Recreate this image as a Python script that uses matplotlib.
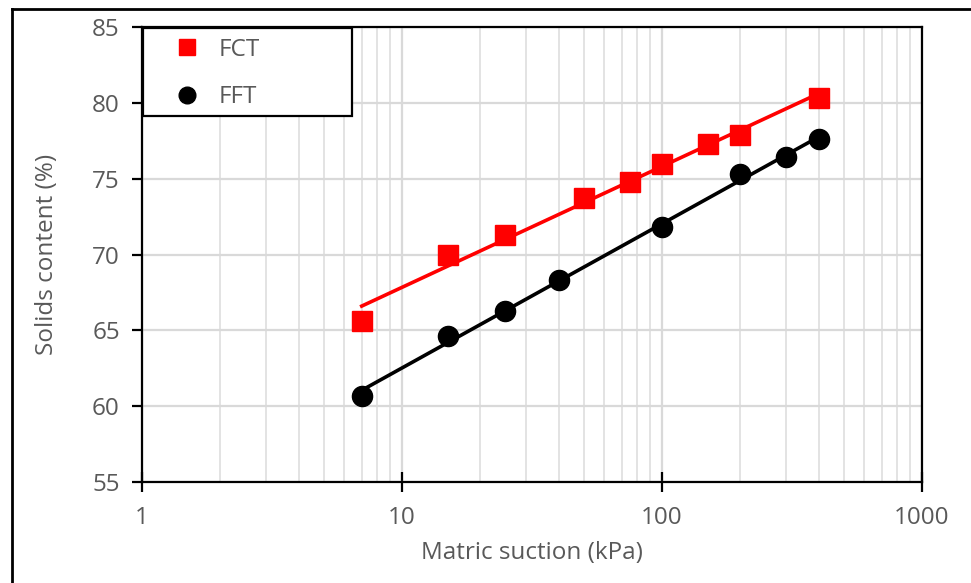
import numpy as np
import matplotlib
matplotlib.use("Agg")
import matplotlib.pyplot as plt
from matplotlib.lines import Line2D
from matplotlib.patches import Rectangle

# data
fct_x = [7, 15, 25, 50, 75, 100, 150, 200, 400]
fct_y = [65.6, 70.0, 71.3, 73.7, 74.8, 76.0, 77.3, 77.9, 80.3]
fft_x = [7, 15, 25, 40, 100, 200, 300, 400]
fft_y = [60.7, 64.6, 66.3, 68.3, 71.8, 75.3, 76.4, 77.6]

plt.rcParams['font.family'] = ['Open Sans', 'DejaVu Sans']
grey = '#595959'

fig = plt.figure(figsize=(9.71, 5.83), dpi=100)
ax = fig.add_axes([142/971, 1-482/583, 780/971, 455/583])

# log-linear trend lines
for xs, ys, c in [(fct_x, fct_y, 'red'), (fft_x, fft_y, 'black')]:
    p = np.polyfit(np.log10(xs), ys, 1)
    xx = np.array([min(xs), max(xs)])
    ax.plot(xx, np.polyval(p, np.log10(xx)), color=c, lw=2.6, zorder=3)

ax.plot(fct_x, fct_y, 's', color='red', ms=14.5, zorder=4)
ax.plot(fft_x, fft_y, 'o', color='black', ms=14.5, zorder=4)

ax.set_xscale('log')
ax.set_xlim(1, 1000)
ax.set_ylim(55, 85)
ax.set_yticks(np.arange(55, 86, 5))
ax.set_xticks([1, 10, 100, 1000])
ax.set_xticklabels(['1', '10', '100', '1000'])
ax.xaxis.set_minor_formatter(matplotlib.ticker.NullFormatter())

ax.grid(True, which='major', color='#d9d9d9', lw=1.6, zorder=0)
ax.grid(True, which='minor', axis='x', color='#e3e3e3', lw=1.4, zorder=0)
ax.set_axisbelow(True)

for s in ax.spines.values():
    s.set_linewidth(1.6)
ax.tick_params(axis='y', direction='out', length=7, width=1.6, labelsize=17.5,
               labelcolor=grey, pad=9)
ax.tick_params(axis='x', which='major', direction='inout', length=14, width=1.6,
               labelsize=17.5, labelcolor=grey, pad=10)
ax.tick_params(axis='x', which='minor', length=0)

ax.set_xlabel('Matric suction (kPa)', fontsize=17.5, color=grey, labelpad=8)
ax.set_ylabel('Solids content (%)', fontsize=17.5, color=grey, labelpad=24)

# legend box
fig.add_artist(Rectangle((143/971, 1-116/583), 209/971, 88/583,
                         transform=fig.transFigure, facecolor='white',
                         edgecolor='black', lw=1.6, zorder=9))
handles = [Line2D([], [], ls='none', marker='s', color='red', ms=12),
           Line2D([], [], ls='none', marker='o', color='black', ms=12)]
leg = fig.legend(handles, ['FCT', 'FFT'], loc='upper left',
                 bbox_to_anchor=(175/971, 1-38/583), fontsize=17.5,
                 frameon=False, borderpad=0, labelspacing=0.95,
                 handletextpad=0.8, borderaxespad=0, handlelength=1.0)
for t in leg.get_texts():
    t.set_color(grey)
leg.set_zorder(10)

# outer chart border (top and left visible)
fig.add_artist(Line2D([12/971, 1], [1-9/583, 1-9/583], color='black', lw=2,
                      transform=fig.transFigure))
fig.add_artist(Line2D([12/971, 12/971], [0, 1-9/583], color='black', lw=2,
                      transform=fig.transFigure))

fig.savefig('out.png', dpi=100)
